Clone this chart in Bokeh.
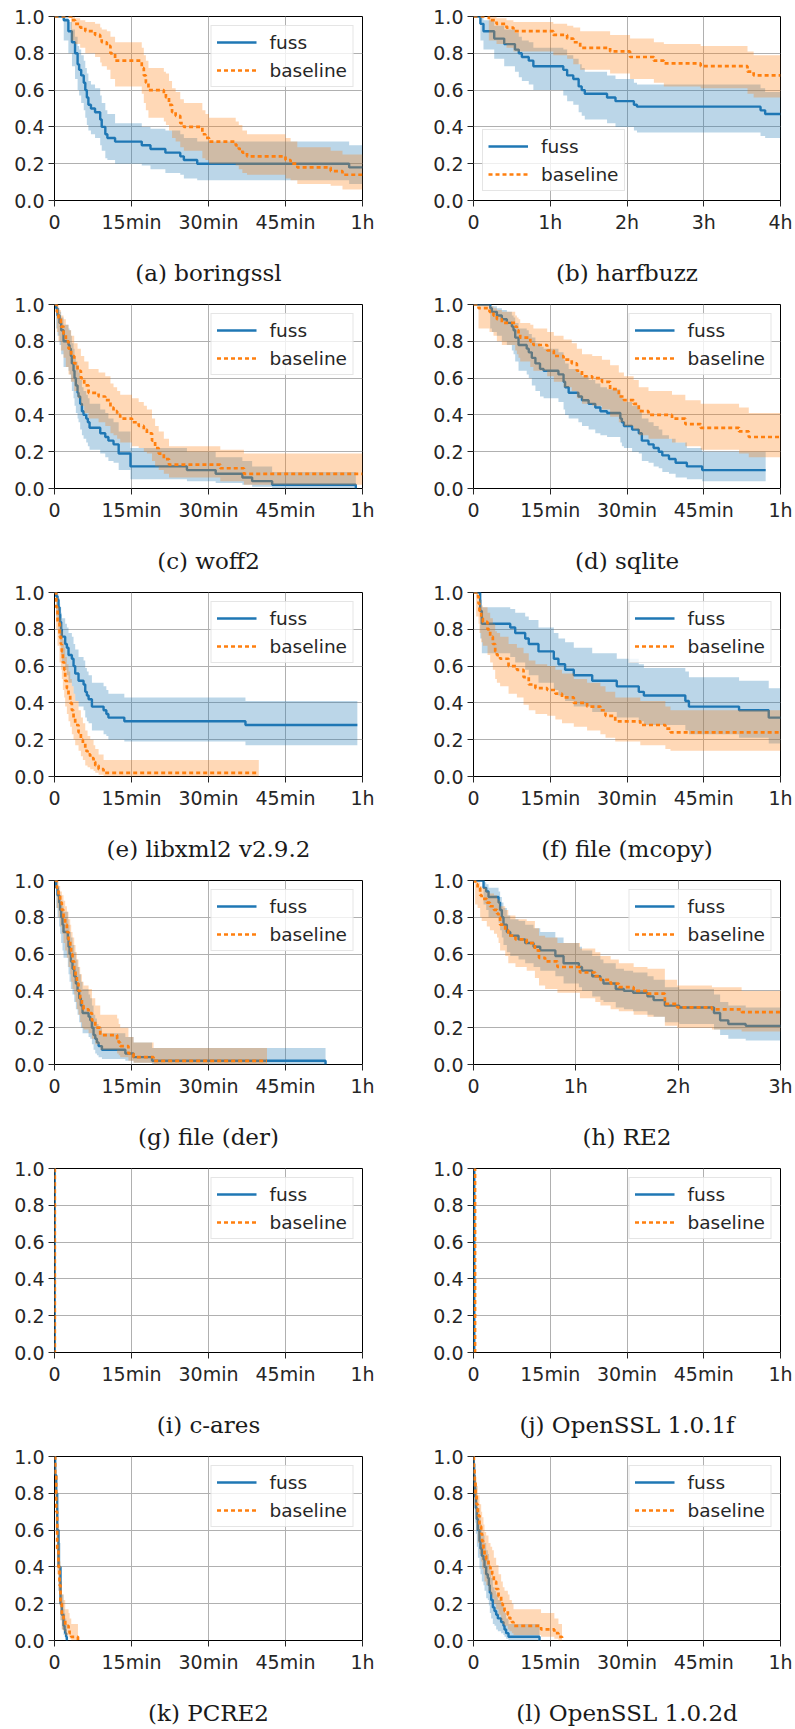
from bokeh.plotting import figure
from bokeh.layouts import gridplot
from bokeh.models import Range1d, FixedTicker, ColumnDataSource, Legend, LegendItem, PrintfTickFormatter
from bokeh.embed import file_html
from bokeh.resources import INLINE

BLUE = "#1f77b4"
ORANGE = "#ff7f0e"

MIN_TICKS = [0, 15, 30, 45, 60]
MIN_LABELS = ["0", "15min", "30min", "45min", "1h"]
H4_TICKS = [0, 1, 2, 3, 4]
H4_LABELS = ["0", "1h", "2h", "3h", "4h"]
H3_TICKS = [0, 1, 2, 3]
H3_LABELS = ["0", "1h", "2h", "3h"]
Y_TICKS = [0.0, 0.2, 0.4, 0.6, 0.8, 1.0]
SERIES_NAMES = ["fuss", "baseline"]

CAPTIONS = ["(a) boringssl", "(b) harfbuzz", "(c) woff2", "(d) sqlite",
            "(e) libxml2 v2.9.2", "(f) file (mcopy)", "(g) file (der)", "(h) RE2",
            "(i) c-ares", "(j) OpenSSL 1.0.1f", "(k) PCRE2", "(l) OpenSSL 1.0.2d"]

# ---------------- (a) boringssl (minutes) ----------------
a_fuss_t = [0, 1.8, 2.7, 3.4, 4.0, 4.5, 4.8, 5.2, 5.7, 6.0, 6.3, 6.6, 7.1, 7.9, 8.9, 9.2, 9.9, 10.3, 11.8, 17.0, 18.7, 21.6, 24.5, 25.2, 27.8, 57.4, 60]
a_fuss_s = [1.0, 0.98, 0.92, 0.86, 0.80, 0.74, 0.71, 0.68, 0.64, 0.60, 0.56, 0.52, 0.50, 0.48, 0.44, 0.40, 0.36, 0.34, 0.32, 0.30, 0.28, 0.26, 0.24, 0.22, 0.20, 0.18, 0.18]
a_fuss_lo = [1.0, 0.87, 0.80, 0.73, 0.66, 0.60, 0.57, 0.53, 0.49, 0.45, 0.41, 0.38, 0.36, 0.34, 0.30, 0.27, 0.23, 0.22, 0.20, 0.19, 0.17, 0.15, 0.14, 0.12, 0.11, 0.09, 0.09]
a_fuss_hi = [1.0, 1.0, 0.97, 0.93, 0.89, 0.84, 0.82, 0.79, 0.76, 0.72, 0.69, 0.65, 0.63, 0.61, 0.57, 0.53, 0.49, 0.47, 0.42, 0.40, 0.39, 0.38, 0.36, 0.34, 0.32, 0.30, 0.30]
a_base_t = [0, 3.25, 4.0, 5.0, 6.0, 7.9, 8.9, 9.2, 10.2, 10.9, 11.8, 17.0, 17.4, 17.8, 18.3, 21.3, 21.7, 22.3, 22.9, 23.6, 24.5, 25.2, 28.8, 29.4, 30.1, 35.3, 35.9, 36.6, 37.5, 45.0, 46.0, 47.3, 53.8, 56.1, 60]
a_base_s = [1.0, 0.98, 0.96, 0.94, 0.92, 0.90, 0.88, 0.86, 0.84, 0.80, 0.76, 0.72, 0.68, 0.64, 0.60, 0.58, 0.56, 0.52, 0.48, 0.46, 0.42, 0.40, 0.36, 0.34, 0.32, 0.30, 0.28, 0.26, 0.24, 0.22, 0.20, 0.18, 0.16, 0.14, 0.14]
a_base_lo = [1.0, 0.87, 0.85, 0.83, 0.80, 0.78, 0.75, 0.73, 0.71, 0.66, 0.62, 0.58, 0.53, 0.49, 0.45, 0.43, 0.41, 0.38, 0.34, 0.32, 0.29, 0.27, 0.23, 0.22, 0.20, 0.19, 0.17, 0.15, 0.14, 0.12, 0.11, 0.09, 0.08, 0.06, 0.06]
a_base_hi = [1.0, 1.0, 0.99, 0.98, 0.97, 0.96, 0.94, 0.93, 0.92, 0.89, 0.86, 0.83, 0.79, 0.76, 0.72, 0.70, 0.69, 0.65, 0.61, 0.59, 0.55, 0.53, 0.49, 0.47, 0.45, 0.43, 0.41, 0.38, 0.36, 0.34, 0.32, 0.29, 0.27, 0.25, 0.25]

# ---------------- (b) harfbuzz (hours) ----------------
b_fuss_t = [0, 0.09, 0.13, 0.27, 0.40, 0.54, 0.59, 0.63, 0.72, 0.78, 1.17, 1.22, 1.30, 1.37, 1.41, 1.45, 1.74, 1.85, 2.09, 2.13, 3.74, 3.80, 4.0]
b_fuss_s = [1.0, 0.96, 0.92, 0.88, 0.85, 0.82, 0.80, 0.78, 0.76, 0.73, 0.71, 0.68, 0.66, 0.62, 0.60, 0.58, 0.56, 0.54, 0.52, 0.51, 0.49, 0.47, 0.47]
b_fuss_lo = [1.0, 0.87, 0.82, 0.77, 0.73, 0.70, 0.67, 0.65, 0.63, 0.60, 0.57, 0.54, 0.52, 0.48, 0.46, 0.44, 0.42, 0.40, 0.38, 0.37, 0.35, 0.34, 0.34]
b_fuss_hi = [1.0, 1.0, 0.98, 0.95, 0.93, 0.91, 0.89, 0.87, 0.86, 0.83, 0.82, 0.79, 0.77, 0.74, 0.72, 0.70, 0.68, 0.66, 0.64, 0.63, 0.61, 0.59, 0.59]
b_base_t = [0, 0.20, 0.30, 0.43, 0.52, 1.04, 1.22, 1.30, 1.39, 1.78, 2.04, 2.35, 2.48, 2.96, 3.57, 3.65, 4.0]
b_base_s = [1.0, 0.98, 0.96, 0.94, 0.92, 0.90, 0.88, 0.86, 0.83, 0.81, 0.78, 0.76, 0.745, 0.73, 0.70, 0.68, 0.68]
b_base_lo = [1.0, 0.87, 0.85, 0.83, 0.81, 0.79, 0.77, 0.74, 0.71, 0.69, 0.66, 0.64, 0.62, 0.61, 0.58, 0.56, 0.56]
b_base_hi = [1.0, 1.0, 0.99, 0.98, 0.97, 0.96, 0.95, 0.94, 0.92, 0.90, 0.88, 0.86, 0.85, 0.84, 0.81, 0.79, 0.79]

# ---------------- (c) woff2 ----------------
c_fuss_t = [0, 0.33, 0.59, 0.98, 1.3, 1.76, 2.73, 2.93, 3.19, 3.38, 3.71, 3.9, 4.16, 4.49, 4.68, 5.0, 5.34, 5.66, 6.18, 6.5, 6.83, 8.91, 9.89, 10.5, 11.5, 12.5, 14.8, 25.8, 31.4, 36.6, 38.5, 42.4, 58.7]
c_fuss_s = [1.0, 0.98, 0.94, 0.90, 0.86, 0.80, 0.78, 0.76, 0.72, 0.68, 0.64, 0.60, 0.56, 0.52, 0.50, 0.46, 0.42, 0.40, 0.38, 0.36, 0.33, 0.30, 0.28, 0.26, 0.24, 0.19, 0.12, 0.10, 0.08, 0.06, 0.04, 0.02, 0.0]
c_fuss_lo = [1.0, 0.87, 0.83, 0.78, 0.73, 0.66, 0.64, 0.62, 0.58, 0.53, 0.49, 0.45, 0.41, 0.38, 0.36, 0.32, 0.29, 0.27, 0.25, 0.23, 0.21, 0.19, 0.17, 0.15, 0.14, 0.10, 0.05, 0.04, 0.03, 0.02, 0.01, 0.0, 0.0]
c_fuss_hi = [1.0, 1.0, 0.98, 0.96, 0.93, 0.89, 0.87, 0.86, 0.83, 0.79, 0.76, 0.72, 0.69, 0.65, 0.63, 0.59, 0.55, 0.53, 0.51, 0.49, 0.46, 0.43, 0.41, 0.38, 0.36, 0.31, 0.22, 0.20, 0.17, 0.15, 0.12, 0.09, 0.0]
c_base_t = [0, 0.46, 0.78, 1.24, 1.76, 2.21, 2.73, 3.25, 3.84, 4.49, 5.14, 5.79, 6.64, 8.59, 9.89, 10.9, 11.5, 12.2, 12.8, 15.1, 16.4, 17.4, 18.0, 19.0, 19.6, 20.3, 21.3, 22.3, 32.3, 36.9, 60]
c_base_s = [1.0, 0.96, 0.92, 0.88, 0.84, 0.80, 0.76, 0.72, 0.68, 0.64, 0.60, 0.56, 0.52, 0.50, 0.48, 0.44, 0.42, 0.40, 0.38, 0.36, 0.34, 0.32, 0.30, 0.26, 0.22, 0.19, 0.16, 0.13, 0.11, 0.08, 0.08]
c_base_lo = [1.0, 0.85, 0.80, 0.75, 0.71, 0.66, 0.62, 0.58, 0.53, 0.49, 0.45, 0.41, 0.38, 0.36, 0.34, 0.30, 0.29, 0.27, 0.25, 0.23, 0.22, 0.20, 0.19, 0.15, 0.12, 0.10, 0.08, 0.06, 0.04, 0.02, 0.02]
c_base_hi = [1.0, 0.99, 0.97, 0.94, 0.92, 0.89, 0.86, 0.83, 0.79, 0.76, 0.72, 0.69, 0.65, 0.63, 0.61, 0.57, 0.55, 0.53, 0.51, 0.49, 0.47, 0.45, 0.43, 0.38, 0.34, 0.31, 0.27, 0.23, 0.21, 0.19, 0.19]

# ---------------- (d) sqlite ----------------
d_fuss_t = [0, 3.26, 3.59, 4.57, 5.54, 6.52, 7.5, 7.83, 8.15, 8.8, 10.4, 10.8, 11.4, 12.1, 13.0, 13.7, 16.6, 17.6, 17.9, 18.6, 20.5, 21.2, 22.5, 23.8, 24.8, 26.1, 28.7, 29.0, 29.4, 31.0, 32.3, 32.9, 34.2, 35.2, 36.2, 36.9, 38.2, 39.5, 41.7, 44.7, 57.1]
d_fuss_s = [1.0, 0.98, 0.96, 0.94, 0.92, 0.90, 0.88, 0.86, 0.82, 0.78, 0.76, 0.74, 0.71, 0.68, 0.65, 0.64, 0.62, 0.58, 0.55, 0.52, 0.50, 0.48, 0.46, 0.44, 0.42, 0.41, 0.38, 0.36, 0.34, 0.32, 0.30, 0.26, 0.24, 0.22, 0.20, 0.18, 0.16, 0.14, 0.12, 0.10, 0.10]
d_fuss_lo = [1.0, 0.87, 0.85, 0.83, 0.80, 0.78, 0.75, 0.73, 0.69, 0.64, 0.62, 0.60, 0.56, 0.53, 0.50, 0.49, 0.47, 0.43, 0.40, 0.38, 0.36, 0.34, 0.32, 0.30, 0.29, 0.28, 0.25, 0.23, 0.22, 0.20, 0.19, 0.15, 0.14, 0.12, 0.11, 0.09, 0.08, 0.06, 0.05, 0.04, 0.04]
d_fuss_hi = [1.0, 1.0, 0.99, 0.98, 0.97, 0.96, 0.94, 0.93, 0.90, 0.87, 0.86, 0.84, 0.82, 0.79, 0.77, 0.76, 0.74, 0.70, 0.68, 0.65, 0.63, 0.61, 0.59, 0.57, 0.55, 0.54, 0.51, 0.49, 0.47, 0.45, 0.43, 0.38, 0.36, 0.34, 0.32, 0.29, 0.27, 0.25, 0.22, 0.20, 0.20]
d_base_t = [0, 0.98, 3.13, 3.91, 4.57, 5.54, 8.15, 8.48, 8.8, 9.13, 11.1, 11.7, 14.4, 15.7, 17.6, 19.2, 20.2, 21.2, 23.2, 25.1, 26.7, 28.4, 29.4, 31.3, 32.3, 34.2, 38.8, 41.4, 44.4, 51.9, 53.8, 60]
d_base_s = [1.0, 0.98, 0.96, 0.94, 0.92, 0.90, 0.88, 0.86, 0.84, 0.82, 0.80, 0.78, 0.75, 0.72, 0.70, 0.68, 0.64, 0.61, 0.60, 0.58, 0.54, 0.50, 0.48, 0.46, 0.42, 0.40, 0.38, 0.35, 0.33, 0.31, 0.28, 0.28]
d_base_lo = [1.0, 0.87, 0.85, 0.83, 0.80, 0.78, 0.75, 0.73, 0.71, 0.69, 0.66, 0.64, 0.61, 0.58, 0.55, 0.53, 0.49, 0.46, 0.45, 0.43, 0.39, 0.36, 0.34, 0.32, 0.29, 0.27, 0.25, 0.23, 0.21, 0.19, 0.17, 0.17]
d_base_hi = [1.0, 1.0, 0.99, 0.98, 0.97, 0.96, 0.94, 0.93, 0.92, 0.90, 0.89, 0.87, 0.85, 0.83, 0.81, 0.79, 0.76, 0.73, 0.72, 0.70, 0.67, 0.63, 0.61, 0.59, 0.55, 0.53, 0.51, 0.48, 0.46, 0.44, 0.41, 0.41]

# ---------------- (e) libxml2 v2.9.2 ----------------
e_fuss_t = [0, 0.33, 0.59, 0.78, 0.98, 1.1, 1.3, 1.43, 2.08, 2.41, 2.73, 3.38, 3.71, 4.03, 4.68, 5.66, 5.99, 6.31, 6.64, 7.29, 9.56, 10.1, 10.5, 13.6, 37.2, 59.0]
e_fuss_s = [1.0, 0.98, 0.96, 0.92, 0.88, 0.84, 0.80, 0.76, 0.72, 0.70, 0.66, 0.64, 0.60, 0.56, 0.52, 0.50, 0.46, 0.44, 0.42, 0.38, 0.36, 0.34, 0.32, 0.30, 0.28, 0.28]
e_fuss_lo = [1.0, 0.87, 0.85, 0.80, 0.75, 0.71, 0.66, 0.62, 0.58, 0.55, 0.51, 0.49, 0.45, 0.41, 0.38, 0.36, 0.32, 0.30, 0.29, 0.25, 0.23, 0.22, 0.20, 0.19, 0.17, 0.17]
e_fuss_hi = [1.0, 1.0, 0.99, 0.97, 0.94, 0.92, 0.89, 0.86, 0.83, 0.81, 0.78, 0.76, 0.72, 0.69, 0.65, 0.63, 0.59, 0.57, 0.55, 0.51, 0.49, 0.47, 0.45, 0.43, 0.41, 0.41]
e_base_t = [0, 0.33, 0.59, 0.98, 1.24, 1.43, 1.63, 1.89, 2.08, 2.41, 2.73, 3.06, 3.38, 3.71, 4.03, 4.68, 5.14, 5.53, 5.99, 6.44, 6.96, 7.61, 7.94, 8.59, 9.56, 39.8]
e_base_s = [1.0, 0.92, 0.84, 0.76, 0.72, 0.68, 0.62, 0.58, 0.52, 0.48, 0.44, 0.40, 0.36, 0.32, 0.28, 0.24, 0.20, 0.18, 0.14, 0.12, 0.10, 0.08, 0.06, 0.04, 0.02, 0.02]
e_base_lo = [1.0, 0.80, 0.71, 0.62, 0.58, 0.53, 0.47, 0.43, 0.38, 0.34, 0.30, 0.27, 0.23, 0.20, 0.17, 0.14, 0.11, 0.09, 0.06, 0.05, 0.04, 0.03, 0.02, 0.01, 0.0, 0.0]
e_base_hi = [1.0, 0.97, 0.92, 0.86, 0.83, 0.79, 0.74, 0.70, 0.65, 0.61, 0.57, 0.53, 0.49, 0.45, 0.41, 0.36, 0.32, 0.29, 0.25, 0.22, 0.20, 0.17, 0.15, 0.12, 0.09, 0.09]

# ---------------- (f) file (mcopy) ----------------
f_fuss_t = [0, 1.3, 1.63, 7.18, 8.15, 10.1, 10.8, 12.7, 15.7, 16.6, 17.9, 19.6, 23.2, 28.0, 32.3, 33.3, 41.4, 42.1, 51.9, 57.7, 60]
f_fuss_s = [1.0, 0.90, 0.83, 0.81, 0.78, 0.75, 0.72, 0.68, 0.64, 0.61, 0.58, 0.55, 0.52, 0.49, 0.46, 0.44, 0.41, 0.38, 0.36, 0.32, 0.32]
f_fuss_lo = [1.0, 0.75, 0.67, 0.65, 0.62, 0.58, 0.55, 0.51, 0.47, 0.44, 0.41, 0.38, 0.35, 0.32, 0.30, 0.28, 0.25, 0.23, 0.21, 0.18, 0.18]
f_fuss_hi = [1.0, 0.96, 0.92, 0.91, 0.89, 0.87, 0.85, 0.81, 0.78, 0.75, 0.73, 0.70, 0.67, 0.64, 0.61, 0.59, 0.57, 0.54, 0.52, 0.48, 0.48]
f_base_t = [0, 0.52, 0.98, 1.17, 1.5, 1.83, 2.74, 3.26, 3.78, 4.24, 4.57, 5.2, 6.85, 8.48, 9.78, 10.8, 12.1, 14.4, 16.0, 17.3, 19.6, 22.2, 24.8, 25.8, 27.7, 32.6, 37.5, 38.5, 60]
f_base_s = [1.0, 0.98, 0.94, 0.90, 0.86, 0.84, 0.80, 0.76, 0.72, 0.68, 0.66, 0.64, 0.60, 0.58, 0.54, 0.50, 0.48, 0.47, 0.45, 0.43, 0.40, 0.38, 0.36, 0.33, 0.30, 0.28, 0.26, 0.24, 0.24]
f_base_lo = [1.0, 0.87, 0.83, 0.78, 0.73, 0.71, 0.66, 0.62, 0.58, 0.53, 0.51, 0.49, 0.45, 0.43, 0.39, 0.36, 0.34, 0.33, 0.31, 0.29, 0.27, 0.25, 0.23, 0.21, 0.19, 0.17, 0.15, 0.14, 0.14]
f_base_hi = [1.0, 1.0, 0.98, 0.96, 0.93, 0.92, 0.89, 0.86, 0.83, 0.79, 0.78, 0.76, 0.72, 0.70, 0.67, 0.63, 0.61, 0.60, 0.58, 0.56, 0.53, 0.51, 0.49, 0.46, 0.43, 0.41, 0.38, 0.36, 0.36]

# ---------------- (g) file (der) ----------------
g_fuss_t = [0, 0.33, 0.59, 0.91, 1.1, 1.3, 1.56, 1.76, 2.6, 2.73, 2.93, 3.19, 3.51, 3.84, 4.16, 4.49, 4.81, 5.14, 5.47, 6.64, 6.96, 7.29, 7.61, 7.94, 8.26, 8.59, 9.24, 13.8, 15.4, 19.0, 52.8]
g_fuss_s = [1.0, 0.96, 0.92, 0.88, 0.84, 0.80, 0.76, 0.72, 0.68, 0.64, 0.60, 0.56, 0.52, 0.48, 0.44, 0.40, 0.36, 0.32, 0.28, 0.26, 0.24, 0.20, 0.16, 0.14, 0.12, 0.10, 0.08, 0.06, 0.04, 0.02, 0.0]
g_fuss_lo = [1.0, 0.85, 0.80, 0.75, 0.71, 0.66, 0.62, 0.58, 0.53, 0.49, 0.45, 0.41, 0.38, 0.34, 0.30, 0.27, 0.23, 0.20, 0.17, 0.15, 0.14, 0.11, 0.08, 0.06, 0.05, 0.04, 0.03, 0.02, 0.01, 0.0, 0.0]
g_fuss_hi = [1.0, 0.99, 0.97, 0.94, 0.92, 0.89, 0.86, 0.83, 0.79, 0.76, 0.72, 0.69, 0.65, 0.61, 0.57, 0.53, 0.49, 0.45, 0.41, 0.38, 0.36, 0.32, 0.27, 0.25, 0.22, 0.20, 0.17, 0.15, 0.12, 0.09, 0.0]
g_base_t = [0, 0.46, 0.78, 1.1, 1.43, 1.76, 2.08, 2.41, 2.73, 3.06, 3.25, 3.51, 3.84, 4.1, 4.36, 4.68, 5.0, 5.34, 5.66, 6.64, 7.29, 7.94, 8.91, 12.2, 12.5, 12.8, 14.4, 15.4, 19.3, 41.4]
g_base_s = [1.0, 0.96, 0.92, 0.88, 0.84, 0.80, 0.76, 0.72, 0.68, 0.64, 0.60, 0.56, 0.52, 0.48, 0.44, 0.40, 0.36, 0.32, 0.30, 0.28, 0.24, 0.20, 0.16, 0.14, 0.12, 0.10, 0.06, 0.04, 0.02, 0.02]
g_base_lo = [1.0, 0.85, 0.80, 0.75, 0.71, 0.66, 0.62, 0.58, 0.53, 0.49, 0.45, 0.41, 0.38, 0.34, 0.30, 0.27, 0.23, 0.20, 0.19, 0.17, 0.14, 0.11, 0.08, 0.06, 0.05, 0.04, 0.02, 0.01, 0.0, 0.0]
g_base_hi = [1.0, 0.99, 0.97, 0.94, 0.92, 0.89, 0.86, 0.83, 0.79, 0.76, 0.72, 0.69, 0.65, 0.61, 0.57, 0.53, 0.49, 0.45, 0.43, 0.41, 0.36, 0.32, 0.27, 0.25, 0.22, 0.20, 0.15, 0.12, 0.09, 0.09]

# ---------------- (h) RE2 (hours) ----------------
h_fuss_t = [0, 0.098, 0.124, 0.147, 0.245, 0.26, 0.277, 0.293, 0.326, 0.359, 0.44, 0.505, 0.587, 0.652, 0.80, 0.88, 1.03, 1.06, 1.16, 1.24, 1.27, 1.39, 1.47, 1.56, 1.70, 1.76, 1.87, 2.01, 2.35, 2.41, 2.49, 2.66, 3.0]
h_fuss_s = [1.0, 0.96, 0.94, 0.91, 0.88, 0.84, 0.80, 0.76, 0.72, 0.70, 0.68, 0.66, 0.64, 0.62, 0.59, 0.55, 0.53, 0.51, 0.48, 0.46, 0.44, 0.41, 0.40, 0.39, 0.37, 0.35, 0.32, 0.31, 0.28, 0.24, 0.22, 0.21, 0.21]
h_fuss_lo = [1.0, 0.87, 0.84, 0.80, 0.77, 0.73, 0.69, 0.65, 0.61, 0.59, 0.57, 0.55, 0.53, 0.51, 0.48, 0.44, 0.42, 0.40, 0.37, 0.35, 0.34, 0.31, 0.30, 0.29, 0.27, 0.26, 0.23, 0.22, 0.19, 0.16, 0.14, 0.13, 0.13]
h_fuss_hi = [1.0, 0.99, 0.98, 0.96, 0.94, 0.91, 0.88, 0.85, 0.81, 0.79, 0.78, 0.76, 0.74, 0.72, 0.69, 0.66, 0.64, 0.62, 0.59, 0.57, 0.55, 0.52, 0.51, 0.50, 0.48, 0.46, 0.42, 0.41, 0.38, 0.34, 0.32, 0.31, 0.31]
h_base_t = [0, 0.016, 0.04, 0.065, 0.08, 0.13, 0.16, 0.20, 0.23, 0.245, 0.26, 0.31, 0.34, 0.41, 0.52, 0.60, 0.64, 0.70, 0.82, 1.04, 1.19, 1.24, 1.34, 1.42, 1.565, 1.70, 1.87, 1.99, 2.33, 2.62, 3.0]
h_base_s = [1.0, 0.98, 0.96, 0.92, 0.90, 0.88, 0.86, 0.84, 0.82, 0.80, 0.76, 0.73, 0.70, 0.68, 0.66, 0.62, 0.58, 0.56, 0.53, 0.50, 0.48, 0.46, 0.44, 0.42, 0.40, 0.385, 0.33, 0.31, 0.30, 0.285, 0.285]
h_base_lo = [1.0, 0.87, 0.85, 0.80, 0.78, 0.75, 0.73, 0.71, 0.69, 0.66, 0.62, 0.59, 0.55, 0.53, 0.51, 0.47, 0.43, 0.41, 0.39, 0.36, 0.34, 0.32, 0.30, 0.29, 0.27, 0.26, 0.21, 0.20, 0.19, 0.18, 0.18]
h_base_hi = [1.0, 1.0, 0.99, 0.97, 0.96, 0.94, 0.93, 0.92, 0.90, 0.89, 0.86, 0.84, 0.81, 0.79, 0.78, 0.74, 0.70, 0.69, 0.66, 0.63, 0.61, 0.59, 0.57, 0.55, 0.53, 0.52, 0.46, 0.43, 0.42, 0.40, 0.40]

# ---------------- (i) c-ares ----------------
i_fuss_t = [0, 0.03]
i_fuss_s = [1.0, 0.0]
i_fuss_lo = [1.0, 0.0]
i_fuss_hi = [1.0, 0.0]
i_base_t = [0, 0.06]
i_base_s = [1.0, 0.0]
i_base_lo = [1.0, 0.0]
i_base_hi = [1.0, 0.0]

# ---------------- (j) OpenSSL 1.0.1f ----------------
j_fuss_t = [0, 0.15]
j_fuss_s = [1.0, 0.0]
j_fuss_lo = [1.0, 0.0]
j_fuss_hi = [1.0, 0.0]
j_base_t = [0, 0.3]
j_base_s = [1.0, 0.0]
j_base_lo = [1.0, 0.0]
j_base_hi = [1.0, 0.0]

# ---------------- (k) PCRE2 ----------------
k_fuss_t = [0, 0.13, 0.33, 0.52, 0.78, 1.17, 1.43, 1.76, 1.96, 2.09, 2.28, 2.41]
k_fuss_s = [1.0, 0.90, 0.80, 0.60, 0.40, 0.20, 0.14, 0.08, 0.06, 0.04, 0.02, 0.0]
k_fuss_lo = [1.0, 0.78, 0.66, 0.45, 0.27, 0.11, 0.06, 0.03, 0.02, 0.01, 0.0, 0.0]
k_fuss_hi = [1.0, 0.96, 0.89, 0.72, 0.53, 0.32, 0.25, 0.17, 0.15, 0.12, 0.09, 0.0]
k_base_t = [0, 0.13, 0.33, 0.52, 0.78, 0.98, 1.17, 1.43, 1.76, 2.09, 2.74, 2.94, 3.26, 4.57]
k_base_s = [1.0, 0.90, 0.70, 0.50, 0.40, 0.30, 0.20, 0.14, 0.12, 0.08, 0.06, 0.04, 0.02, 0.0]
k_base_lo = [1.0, 0.78, 0.55, 0.36, 0.27, 0.19, 0.11, 0.06, 0.05, 0.03, 0.02, 0.01, 0.0, 0.0]
k_base_hi = [1.0, 0.96, 0.81, 0.63, 0.53, 0.43, 0.32, 0.25, 0.22, 0.17, 0.15, 0.12, 0.09, 0.0]

# ---------------- (l) OpenSSL 1.0.2d ----------------
l_fuss_t = [0, 0.065, 0.13, 0.2, 0.33, 0.46, 0.65, 0.85, 1.17, 1.37, 1.63, 1.95, 2.15, 2.48, 2.8, 3.0, 3.19, 3.45, 3.78, 4.1, 4.43, 4.76, 5.4, 5.86, 6.06, 6.38, 6.84, 12.9]
l_fuss_s = [1.0, 0.96, 0.90, 0.84, 0.78, 0.72, 0.66, 0.60, 0.54, 0.50, 0.46, 0.44, 0.40, 0.36, 0.34, 0.30, 0.26, 0.22, 0.18, 0.16, 0.14, 0.12, 0.10, 0.08, 0.06, 0.04, 0.02, 0.0]
l_fuss_lo = [1.0, 0.85, 0.78, 0.71, 0.64, 0.58, 0.51, 0.45, 0.39, 0.36, 0.32, 0.30, 0.27, 0.23, 0.22, 0.19, 0.15, 0.12, 0.09, 0.08, 0.06, 0.05, 0.04, 0.03, 0.02, 0.01, 0.0, 0.0]
l_fuss_hi = [1.0, 0.99, 0.96, 0.92, 0.87, 0.83, 0.78, 0.72, 0.67, 0.63, 0.59, 0.57, 0.53, 0.49, 0.47, 0.43, 0.38, 0.34, 0.29, 0.27, 0.25, 0.22, 0.20, 0.17, 0.15, 0.12, 0.09, 0.0]
l_base_t = [0, 0.065, 0.2, 0.39, 0.59, 0.85, 1.17, 1.5, 1.69, 1.95, 2.15, 2.48, 2.93, 3.32, 3.65, 3.97, 4.43, 4.89, 5.4, 5.73, 6.06, 6.71, 7.04, 7.49, 7.82, 13.2, 15.8, 16.6, 17.3]
l_base_s = [1.0, 0.94, 0.86, 0.80, 0.74, 0.68, 0.62, 0.58, 0.54, 0.50, 0.46, 0.44, 0.40, 0.38, 0.36, 0.32, 0.28, 0.24, 0.20, 0.18, 0.16, 0.14, 0.12, 0.10, 0.08, 0.06, 0.04, 0.02, 0.0]
l_base_lo = [1.0, 0.83, 0.73, 0.66, 0.60, 0.53, 0.47, 0.43, 0.39, 0.36, 0.32, 0.30, 0.27, 0.25, 0.23, 0.20, 0.17, 0.14, 0.11, 0.09, 0.08, 0.06, 0.05, 0.04, 0.03, 0.02, 0.01, 0.0, 0.0]
l_base_hi = [1.0, 0.98, 0.93, 0.89, 0.84, 0.79, 0.74, 0.70, 0.67, 0.63, 0.59, 0.57, 0.53, 0.51, 0.49, 0.45, 0.41, 0.36, 0.32, 0.29, 0.27, 0.25, 0.22, 0.20, 0.17, 0.15, 0.12, 0.09, 0.0]

PANELS = [
    ((a_fuss_t, a_fuss_s, a_fuss_lo, a_fuss_hi), (a_base_t, a_base_s, a_base_lo, a_base_hi), MIN_TICKS, MIN_LABELS, "top_right"),
    ((b_fuss_t, b_fuss_s, b_fuss_lo, b_fuss_hi), (b_base_t, b_base_s, b_base_lo, b_base_hi), H4_TICKS, H4_LABELS, "bottom_left"),
    ((c_fuss_t, c_fuss_s, c_fuss_lo, c_fuss_hi), (c_base_t, c_base_s, c_base_lo, c_base_hi), MIN_TICKS, MIN_LABELS, "top_right"),
    ((d_fuss_t, d_fuss_s, d_fuss_lo, d_fuss_hi), (d_base_t, d_base_s, d_base_lo, d_base_hi), MIN_TICKS, MIN_LABELS, "top_right"),
    ((e_fuss_t, e_fuss_s, e_fuss_lo, e_fuss_hi), (e_base_t, e_base_s, e_base_lo, e_base_hi), MIN_TICKS, MIN_LABELS, "top_right"),
    ((f_fuss_t, f_fuss_s, f_fuss_lo, f_fuss_hi), (f_base_t, f_base_s, f_base_lo, f_base_hi), MIN_TICKS, MIN_LABELS, "top_right"),
    ((g_fuss_t, g_fuss_s, g_fuss_lo, g_fuss_hi), (g_base_t, g_base_s, g_base_lo, g_base_hi), MIN_TICKS, MIN_LABELS, "top_right"),
    ((h_fuss_t, h_fuss_s, h_fuss_lo, h_fuss_hi), (h_base_t, h_base_s, h_base_lo, h_base_hi), H3_TICKS, H3_LABELS, "top_right"),
    ((i_fuss_t, i_fuss_s, i_fuss_lo, i_fuss_hi), (i_base_t, i_base_s, i_base_lo, i_base_hi), MIN_TICKS, MIN_LABELS, "top_right"),
    ((j_fuss_t, j_fuss_s, j_fuss_lo, j_fuss_hi), (j_base_t, j_base_s, j_base_lo, j_base_hi), MIN_TICKS, MIN_LABELS, "top_right"),
    ((k_fuss_t, k_fuss_s, k_fuss_lo, k_fuss_hi), (k_base_t, k_base_s, k_base_lo, k_base_hi), MIN_TICKS, MIN_LABELS, "top_right"),
    ((l_fuss_t, l_fuss_s, l_fuss_lo, l_fuss_hi), (l_base_t, l_base_s, l_base_lo, l_base_hi), MIN_TICKS, MIN_LABELS, "top_right"),
]

TEXT_COLOR = "#262626"


def make_source(series, name):
    t, s, lo, hi = series
    if not (len(t) == len(s) == len(lo) == len(hi)):
        raise ValueError(f"length mismatch in {name}: {len(t)} {len(s)} {len(lo)} {len(hi)}")
    return ColumnDataSource(dict(t=t, s=s, lo=lo, hi=hi))


def make_panel(idx):
    fuss, base, ticks, labels, legend_loc = PANELS[idx]
    col = idx % 2
    p = figure(
        width=397 if col == 0 else 398, height=288,
        x_range=Range1d(ticks[0], ticks[-1]), y_range=Range1d(0, 1),
        output_backend="svg", toolbar_location=None,
        min_border_left=54 if col == 0 else 76,
        min_border_right=35 if col == 0 else 15,
        min_border_top=16, min_border_bottom=84,
        background_fill_color="white", border_fill_color="white",
    )
    p.outline_line_color = "black"
    p.outline_line_width = 1

    renderers = []
    for series, color, name in ((fuss, BLUE, "fuss"), (base, ORANGE, "baseline")):
        src = make_source(series, f"{CAPTIONS[idx]} {name}")
        p.varea_step(x="t", y1="lo", y2="hi", step_mode="after", source=src,
                     fill_color=color, fill_alpha=0.3)
        if name == "fuss":
            r = p.step(x="t", y="s", mode="after", source=src, line_color=color, line_width=2.4)
        else:
            r = p.step(x="t", y="s", mode="after", source=src, line_color=color, line_width=2.7,
                       line_dash="4 3")
        renderers.append(r)

    legend = Legend(items=[LegendItem(label=SERIES_NAMES[0], renderers=[renderers[0]]),
                           LegendItem(label=SERIES_NAMES[1], renderers=[renderers[1]])],
                    location=legend_loc)
    legend.label_text_font = "DejaVu Sans"
    legend.label_text_font_size = "18.5px"
    legend.label_text_color = TEXT_COLOR
    legend.glyph_width = 40
    legend.glyph_height = 22
    legend.label_height = 22
    legend.label_standoff = 13
    legend.spacing = 6
    legend.padding = 5
    legend.margin = 9
    legend.border_line_color = "#cccccc"
    legend.border_line_width = 1
    legend.background_fill_color = "white"
    legend.background_fill_alpha = 0.8
    p.add_layout(legend)

    p.xaxis.ticker = FixedTicker(ticks=ticks)
    p.xaxis.major_label_overrides = {float(t): l for t, l in zip(ticks, labels)}
    p.yaxis.ticker = FixedTicker(ticks=Y_TICKS)
    p.yaxis.formatter = PrintfTickFormatter(format="%.1f")

    p.xgrid.grid_line_color = "#b0b0b0"
    p.ygrid.grid_line_color = "#b0b0b0"
    p.grid.grid_line_width = 1

    p.axis.axis_line_color = None
    p.axis.major_tick_line_color = TEXT_COLOR
    p.axis.major_tick_line_width = 1
    p.axis.major_tick_out = 6
    p.axis.major_tick_in = 0
    p.axis.minor_tick_line_color = None
    p.axis.major_label_text_font = "DejaVu Sans"
    p.axis.major_label_text_font_size = "19px"
    p.axis.major_label_text_color = TEXT_COLOR
    p.axis.major_label_standoff = 4

    p.xaxis.axis_label = CAPTIONS[idx]
    p.xaxis.axis_label_text_font = "DejaVu Serif"
    p.xaxis.axis_label_text_font_size = "23px"
    p.xaxis.axis_label_text_font_style = "normal"
    p.xaxis.axis_label_text_color = "#1a1a1a"
    p.xaxis.axis_label_standoff = 24
    return p


figs = [make_panel(i) for i in range(12)]
grid = gridplot([[figs[2 * r], figs[2 * r + 1]] for r in range(6)], toolbar_location=None)

open("out.html", "w").write(file_html(grid, INLINE))
